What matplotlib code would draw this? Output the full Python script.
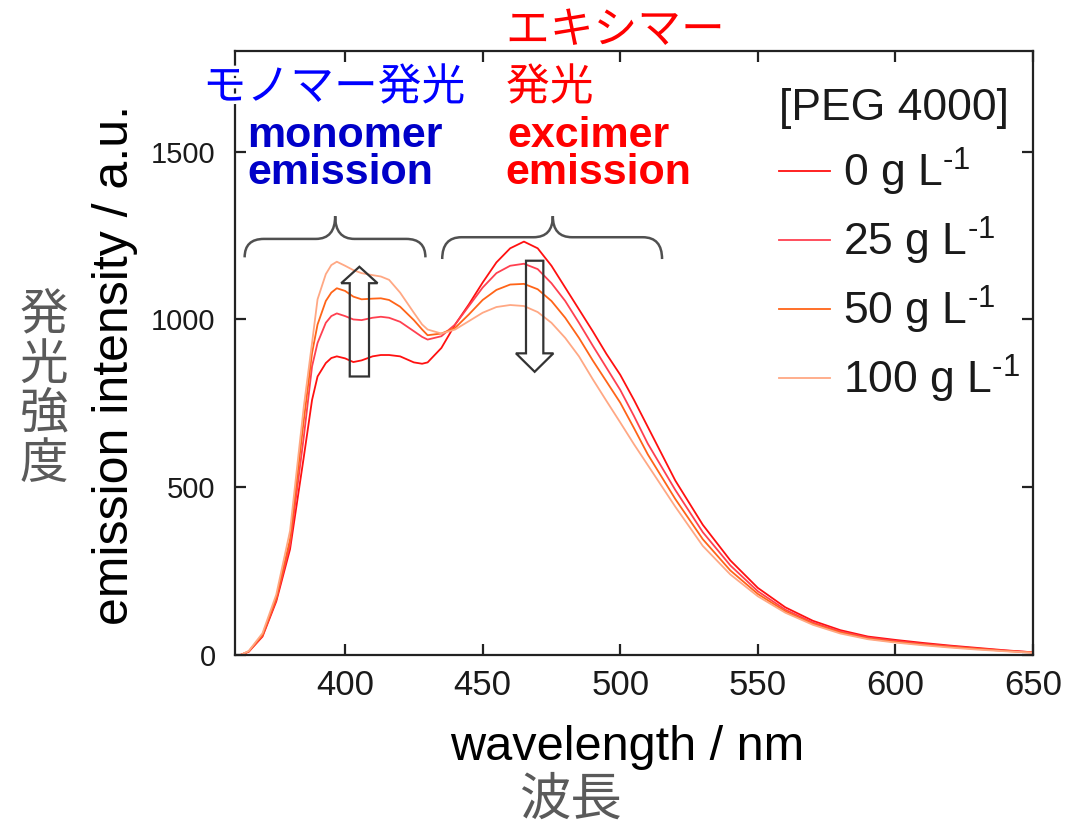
import numpy as np
import matplotlib
matplotlib.use('Agg')
import matplotlib.pyplot as plt
import matplotlib.patheffects as pe
from matplotlib.path import Path
from matplotlib.patches import PathPatch

# 波長 (nm)
wl = [362, 365, 370, 375, 380, 385, 388, 390, 393, 395, 397, 400, 403, 406, 410, 413, 416, 420, 425, 428,
      430, 435, 440, 445, 450, 455, 460, 465, 470, 475, 480, 485, 490, 495, 500, 505, 510, 520, 530, 540,
      550, 560, 570, 580, 590, 600, 610, 620, 630, 640, 650]

# 発光強度 (a.u.)
peg0 = [0, 10, 55, 160, 315, 590, 760, 830, 870, 885, 890, 884, 873, 878, 890, 894, 894, 890, 872, 868,
        872, 915, 985, 1045, 1110, 1170, 1212, 1232, 1212, 1160, 1095, 1030, 965, 897, 835, 760, 680, 520, 388, 282,
        200, 142, 102, 74, 55, 45, 36, 28, 21, 14, 8]
peg25 = [0, 10, 58, 165, 330, 650, 860, 930, 990, 1010, 1018, 1010, 1000, 998, 1005, 1008, 1005, 993, 965, 948,
         940, 950, 985, 1040, 1095, 1138, 1160, 1166, 1150, 1108, 1055, 990, 922, 856, 790, 712, 630, 492, 366, 267,
         190, 135, 97, 70, 52, 42, 33, 26, 19, 13, 8]
peg50 = [0, 11, 60, 170, 345, 700, 900, 985, 1055, 1080, 1093, 1085, 1068, 1060, 1062, 1063, 1058, 1038, 998, 970,
         953, 958, 975, 1015, 1058, 1088, 1104, 1106, 1090, 1055, 1005, 945, 878, 815, 752, 676, 598, 465, 345, 252,
         182, 130, 93, 67, 49, 39, 31, 24, 18, 12, 7]
peg100 = [0, 12, 65, 180, 370, 740, 930, 1060, 1135, 1162, 1172, 1160, 1147, 1138, 1132, 1128, 1118, 1080, 1020, 985,
          970, 958, 970, 995, 1020, 1037, 1043, 1040, 1022, 990, 945, 890, 822, 757, 693, 628, 566, 442, 325, 240,
          175, 126, 90, 64, 47, 37, 29, 22, 16, 11, 7]

series = [peg0, peg25, peg50, peg100]
labels = ['0 g L$^{\u20101}$', '25 g L$^{\u20101}$', '50 g L$^{\u20101}$', '100 g L$^{\u20101}$']
colors = ['#ff1010', '#ff4050', '#ff6418', '#ffa884']

plt.rcParams['font.family'] = ['Liberation Sans', 'Noto Sans CJK JP', 'DejaVu Sans']
plt.rcParams['mathtext.fontset'] = 'custom'
plt.rcParams['mathtext.rm'] = 'Liberation Sans'
plt.rcParams['mathtext.default'] = 'regular'

W, H = 1065, 827
fig = plt.figure(figsize=(W / 100, H / 100), dpi=100)
ax = fig.add_axes([235 / W, 1 - 655 / H, (1033 - 235) / W, (655 - 51) / H])

lines = []
for y, c, lab in zip(series, colors, labels):
    l, = ax.plot(wl, y, color=c, lw=1.3, label=lab)
    lines.append(l)

ax.set_xlim(360, 650)
ax.set_ylim(0, 1800)
ax.set_xticks([400, 450, 500, 550, 600, 650])
ax.set_yticks([0, 500, 1000, 1500])
for s in ax.spines.values():
    s.set_linewidth(1.6)
    s.set_color('#222222')
ax.tick_params(direction='in', length=8, width=1.6, top=True, right=True, color='#222222')
ax.tick_params(axis='x', labelsize=25, pad=10, labelcolor='#1a1a1a')
ax.tick_params(axis='y', labelsize=21, pad=14, labelcolor='#1a1a1a')

# ラベル
ax.set_xlabel('wavelength / nm', fontsize=35)
ax.xaxis.set_label_coords((627 - 235) / 798, -(747 - 655) / 604)
ax.xaxis.label.set_va('center')
ax.set_ylabel('emission intensity / a.u.', fontsize=36)
ax.yaxis.set_label_coords(-(235 - 115) / 798, (655 - 365) / 604)
ax.yaxis.label.set_va('center')

jp = ['Noto Sans CJK JP', 'DejaVu Sans']
fig.text(570 / W, 1 - 800 / H, '波長', fontsize=37, color='#5a5a5a', ha='center', va='center', family=jp)
fig.text(44 / W, 1 - 390 / H, '発\n光\n強\n度', fontsize=35, color='#5a5a5a', ha='center', va='center',
         family=jp, linespacing=1.0)

# 注釈テキスト
halo = [pe.withStroke(linewidth=5, foreground='white')]
fig.text(334 / W, 1 - 87 / H, 'モノマー発光', fontsize=31.5, color='#0000ff', ha='center', va='center',
         family=jp, path_effects=halo)
fig.text(506 / W, 1 - 30 / H, 'エキシマー', fontsize=31.5, color='#ff0000', ha='left', va='center',
         family=jp, path_effects=halo)
fig.text(506 / W, 1 - 87 / H, '発光', fontsize=31.5, color='#ff0000', ha='left', va='center',
         family=jp, path_effects=halo)
for txt, xp, c in [('monomer', 247, '#0000c8'), ('excimer', 507, '#ff0000')]:
    fig.text(xp / W, 1 - 147 / H, txt, fontsize=31, fontweight='bold', color=c, va='baseline')
for xp, c in [(247, '#0000c8'), (505, '#ff0000')]:
    fig.text(xp / W, 1 - 184 / H, 'emission', fontsize=31, fontweight='bold', color=c, va='baseline')


# 中括弧
def brace(x0, x1, xm, y0, y1, y2, d):
    verts = [(x0, y0), (x0, y1), (x0 + d, y1), (xm - d, y1), (xm, y1), (xm, y2),
             (xm, y1), (xm + d, y1), (x1 - d, y1), (x1, y1), (x1, y0)]
    codes = [Path.MOVETO, Path.CURVE3, Path.CURVE3, Path.LINETO, Path.CURVE3, Path.CURVE3,
             Path.CURVE3, Path.CURVE3, Path.LINETO, Path.CURVE3, Path.CURVE3]
    ax.add_patch(PathPatch(Path(verts, codes), fill=False, edgecolor='#505050', lw=1.8, clip_on=False))


brace(363.5, 429.2, 396.4, 1185, 1240, 1308, 7)
brace(435.3, 515.2, 475.5, 1180, 1245, 1308, 7)

# 矢印
ax.arrow(405.2, 830, 0, 327, width=7, head_width=13.2, head_length=49, length_includes_head=True,
         fc='none', ec='#333333', lw=1.6, zorder=5)
ax.arrow(468.9, 1175, 0, -331, width=6.3, head_width=13.6, head_length=55, length_includes_head=True,
         fc='none', ec='#333333', lw=1.6, zorder=5)

leg = ax.legend(handles=lines, loc='upper left', bbox_to_anchor=(776 / W, 1 - 85 / H),
                bbox_transform=fig.transFigure, frameon=False, fontsize=32, title='[PEG 4000]',
                title_fontsize=32, handlelength=1.15, handletextpad=0.3, labelspacing=0.38,
                borderpad=0.06, borderaxespad=0, alignment='left')
leg.get_title().set_color('#1a1a1a')
for t in leg.get_texts():
    t.set_color('#1a1a1a')

fig.savefig('out.png', dpi=100)
